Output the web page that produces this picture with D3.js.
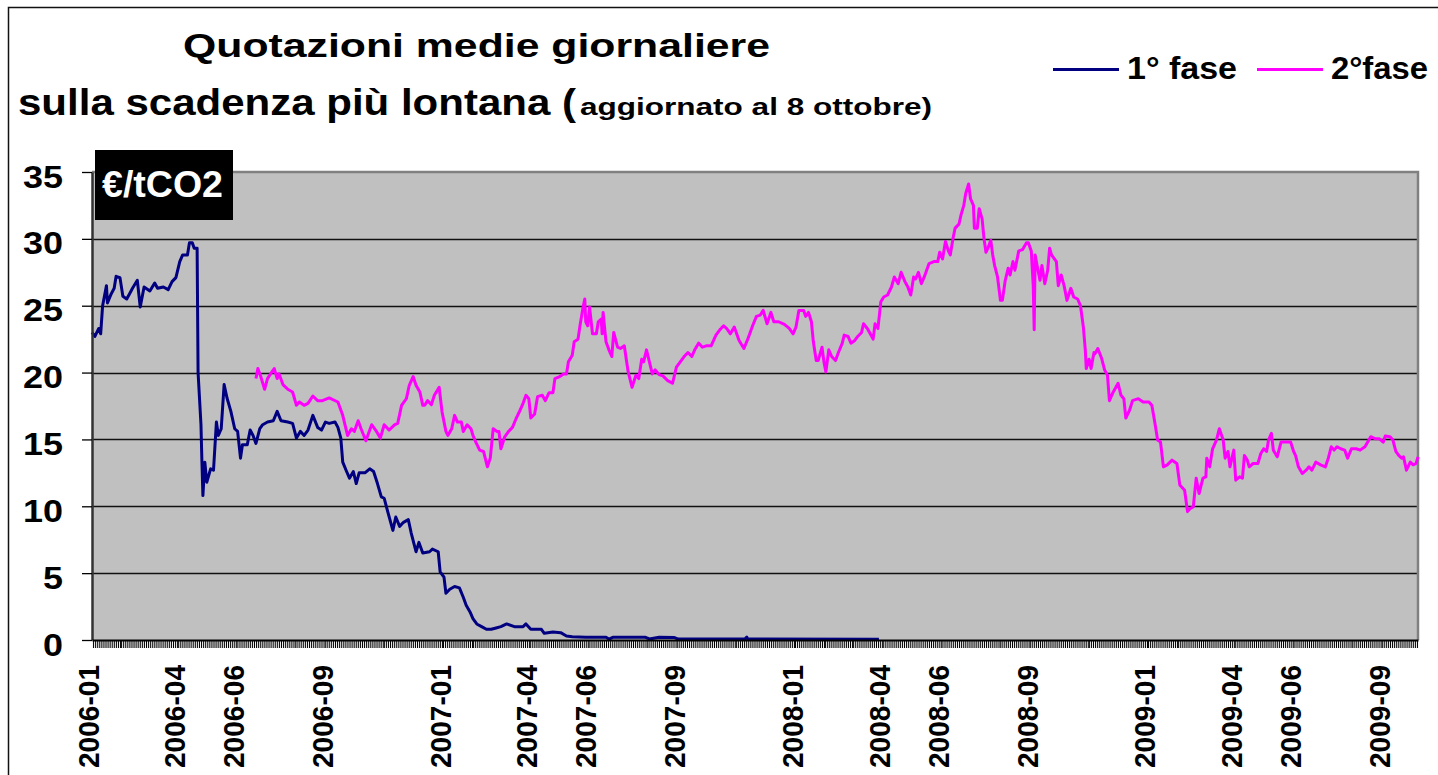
<!DOCTYPE html>
<html>
<head>
<meta charset="utf-8">
<script src="https://cdn.jsdelivr.net/npm/d3@7"></script>
<style>
  body { margin: 0; background: #fff; }
  svg { display: block; }
  text { font-family: Arial, "Liberation Sans", sans-serif; font-weight: bold; }
</style>
</head>
<body>
<svg id="chart" width="1438" height="775"></svg>
<script>
// Quotazioni EUA - 1° fase e 2° fase

const yTicks = [0, 5, 10, 15, 20, 25, 30, 35];
const xLabels = ["2006-01", "2006-04", "2006-06", "2006-09",
                 "2007-01", "2007-04", "2007-06", "2007-09",
                 "2008-01", "2008-04", "2008-06", "2008-09",
                 "2009-01", "2009-04", "2009-06", "2009-09"];

// 1° fase
const fase1Dates = [
  "2006-01-02","2006-01-05","2006-01-09","2006-01-11","2006-01-13","2006-01-17","2006-01-18","2006-01-22","2006-01-25","2006-01-27","2006-01-31",
  "2006-02-03","2006-02-07","2006-02-10","2006-02-13","2006-02-18","2006-02-21","2006-02-25",
  "2006-03-03","2006-03-08","2006-03-11","2006-03-17","2006-03-22","2006-03-26","2006-03-30",
  "2006-04-03","2006-04-06","2006-04-11","2006-04-13","2006-04-16","2006-04-18","2006-04-21","2006-04-22","2006-04-25","2006-04-26","2006-04-27","2006-04-29",
  "2006-05-01","2006-05-05","2006-05-08","2006-05-11","2006-05-13","2006-05-16","2006-05-19","2006-05-22","2006-05-26","2006-05-30",
  "2006-06-02","2006-06-05","2006-06-07","2006-06-12","2006-06-15","2006-06-18","2006-06-21","2006-06-25","2006-06-28",
  "2006-07-03","2006-07-09","2006-07-13","2006-07-17","2006-07-24","2006-07-29",
  "2006-08-02","2006-08-06","2006-08-10","2006-08-14","2006-08-19","2006-08-24","2006-08-28",
  "2006-09-01","2006-09-05","2006-09-11","2006-09-14","2006-09-17","2006-09-19","2006-09-23","2006-09-26","2006-09-30",
  "2006-10-03","2006-10-06","2006-10-12","2006-10-17","2006-10-21","2006-10-25","2006-10-29",
  "2006-11-01","2006-11-05","2006-11-10","2006-11-13","2006-11-17","2006-11-21","2006-11-26","2006-11-29",
  "2006-12-04","2006-12-07","2006-12-11","2006-12-18","2006-12-21","2006-12-27","2006-12-29",
  "2007-01-02","2007-01-04","2007-01-08","2007-01-13","2007-01-18","2007-01-22","2007-01-25","2007-01-29",
  "2007-02-01","2007-02-05","2007-02-10","2007-02-15","2007-02-20","2007-02-25",
  "2007-03-02","2007-03-08","2007-03-16","2007-03-25","2007-03-28",
  "2007-04-02","2007-04-13","2007-04-16","2007-04-25",
  "2007-05-03","2007-05-09","2007-05-15","2007-05-29",
  "2007-06-19","2007-06-22","2007-06-26",
  "2007-07-30","2007-08-03","2007-08-13","2007-08-29","2007-09-02",
  "2007-11-10","2007-11-12","2007-11-13","2008-03-28"
];
const fase1Values = [
  23.0,22.7,23.3,22.9,25.0,26.5,25.2,25.9,26.3,27.2,27.1,
  25.7,25.5,25.9,26.3,26.9,24.9,26.4,
  26.1,26.7,26.3,26.4,26.2,26.8,27.1,
  28.3,28.8,28.8,29.7,29.7,29.3,29.3,20.0,16.1,13.3,10.8,13.3,
  11.8,12.8,12.7,16.3,15.3,15.8,19.1,18.1,17.1,15.8,
  15.6,13.6,14.6,14.6,15.7,15.3,14.7,15.8,16.1,
  16.3,16.4,17.1,16.4,16.3,16.2,
  15.1,15.6,15.3,15.7,16.8,15.9,15.7,
  16.3,16.2,16.3,15.9,15.1,13.3,12.6,12.1,12.6,
  11.7,12.5,12.5,12.8,12.6,11.7,10.7,
  10.6,9.5,8.2,9.2,8.5,8.8,9.0,8.0,
  6.6,7.3,6.5,6.6,6.8,6.6,5.1,
  4.7,3.5,3.8,4.0,3.9,3.2,2.6,2.1,
  1.6,1.2,1.0,0.8,0.8,0.9,
  1.0,1.2,1.0,1.0,1.2,
  0.8,0.8,0.5,0.6,
  0.55,0.3,0.25,0.2,
  0.2,0.07,0.2,
  0.2,0.08,0.2,0.18,0.07,
  0.07,0.22,0.07,0.05
];

// 2° fase
const fase2Dates = [
  "2006-06-21","2006-06-23","2006-06-26","2006-06-30",
  "2006-07-03","2006-07-07","2006-07-10","2006-07-13","2006-07-15","2006-07-19","2006-07-24","2006-07-29",
  "2006-08-02","2006-08-05","2006-08-10","2006-08-14","2006-08-19","2006-08-24","2006-08-29",
  "2006-09-05","2006-09-14","2006-09-19","2006-09-24","2006-09-28",
  "2006-10-01","2006-10-05","2006-10-08","2006-10-13","2006-10-19","2006-10-24","2006-10-28",
  "2006-11-01","2006-11-06","2006-11-12","2006-11-15","2006-11-19","2006-11-24","2006-11-27",
  "2006-12-01","2006-12-04","2006-12-08","2006-12-11","2006-12-13","2006-12-16","2006-12-20","2006-12-23","2006-12-28","2006-12-31",
  "2007-01-04","2007-01-06","2007-01-10","2007-01-13","2007-01-16","2007-01-20","2007-01-22","2007-01-26","2007-01-30",
  "2007-02-01","2007-02-04","2007-02-08","2007-02-12","2007-02-16","2007-02-19","2007-02-22","2007-02-26","2007-02-28",
  "2007-03-02","2007-03-06","2007-03-10","2007-03-14","2007-03-18","2007-03-21","2007-03-25","2007-03-28","2007-03-31",
  "2007-04-02","2007-04-06","2007-04-09","2007-04-14","2007-04-17","2007-04-21","2007-04-25","2007-04-27",
  "2007-05-02","2007-05-06","2007-05-09","2007-05-11","2007-05-15","2007-05-17","2007-05-21","2007-05-23","2007-05-26","2007-05-28","2007-05-29","2007-05-31",
  "2007-06-02","2007-06-05","2007-06-09","2007-06-11","2007-06-14","2007-06-15","2007-06-16","2007-06-19","2007-06-22","2007-06-25","2007-06-27",
  "2007-07-01","2007-07-04","2007-07-08","2007-07-10","2007-07-12","2007-07-16","2007-07-20","2007-07-23","2007-07-26","2007-07-28","2007-07-31",
  "2007-08-03","2007-08-06","2007-08-09","2007-08-13","2007-08-17","2007-08-22","2007-08-27","2007-08-31",
  "2007-09-04","2007-09-08","2007-09-12","2007-09-16","2007-09-19","2007-09-23","2007-09-27",
  "2007-10-01","2007-10-06","2007-10-11","2007-10-15","2007-10-19","2007-10-22","2007-10-26","2007-10-30",
  "2007-11-04","2007-11-09","2007-11-13","2007-11-18","2007-11-22","2007-11-26","2007-11-29",
  "2007-12-03","2007-12-07","2007-12-10","2007-12-15","2007-12-21","2007-12-26","2007-12-30",
  "2008-01-02","2008-01-05","2008-01-10","2008-01-12","2008-01-15","2008-01-18","2008-01-20","2008-01-23","2008-01-25","2008-01-29","2008-01-31",
  "2008-02-02","2008-02-05","2008-02-08","2008-02-12","2008-02-15","2008-02-19","2008-02-21","2008-02-25","2008-02-28",
  "2008-03-03","2008-03-06","2008-03-10","2008-03-12","2008-03-16","2008-03-19","2008-03-22","2008-03-24","2008-03-27","2008-03-30",
  "2008-04-02","2008-04-06","2008-04-10","2008-04-13","2008-04-17","2008-04-20","2008-04-24","2008-04-27","2008-04-30",
  "2008-05-03","2008-05-05","2008-05-08","2008-05-11","2008-05-14","2008-05-19","2008-05-24","2008-05-28","2008-05-30",
  "2008-06-02","2008-06-05","2008-06-08","2008-06-10","2008-06-13","2008-06-15","2008-06-19","2008-06-21","2008-06-24","2008-06-26","2008-06-29",
  "2008-07-01","2008-07-04","2008-07-05","2008-07-08","2008-07-10","2008-07-13","2008-07-15","2008-07-17","2008-07-19","2008-07-22","2008-07-24","2008-07-26","2008-07-29",
  "2008-08-01","2008-08-03","2008-08-06","2008-08-09","2008-08-11","2008-08-14","2008-08-16","2008-08-20","2008-08-24","2008-08-28","2008-08-30",
  "2008-09-02","2008-09-04","2008-09-05","2008-09-06","2008-09-08","2008-09-11","2008-09-13","2008-09-16","2008-09-19","2008-09-21","2008-09-23","2008-09-28","2008-09-30",
  "2008-10-03","2008-10-06","2008-10-09","2008-10-13","2008-10-16","2008-10-20","2008-10-23","2008-10-26","2008-10-28","2008-10-29",
  "2008-11-01","2008-11-03","2008-11-06","2008-11-07","2008-11-10","2008-11-14","2008-11-17","2008-11-20","2008-11-22","2008-11-26",
  "2008-12-01","2008-12-04","2008-12-07","2008-12-09","2008-12-13","2008-12-16","2008-12-22","2008-12-27",
  "2009-01-02","2009-01-05","2009-01-08","2009-01-11","2009-01-14","2009-01-17","2009-01-21","2009-01-26","2009-01-31",
  "2009-02-03","2009-02-08","2009-02-11","2009-02-14","2009-02-17","2009-02-20","2009-02-23","2009-02-27",
  "2009-03-02","2009-03-03","2009-03-06","2009-03-09","2009-03-13","2009-03-16","2009-03-20","2009-03-22","2009-03-25","2009-03-27","2009-03-31",
  "2009-04-02","2009-04-06","2009-04-09","2009-04-11","2009-04-14","2009-04-16","2009-04-20","2009-04-25","2009-04-28",
  "2009-05-01","2009-05-04","2009-05-06","2009-05-09","2009-05-11","2009-05-15","2009-05-19","2009-05-24","2009-05-29",
  "2009-06-01","2009-06-03","2009-06-06","2009-06-10","2009-06-14","2009-06-17","2009-06-20","2009-06-24","2009-06-29",
  "2009-07-04","2009-07-07","2009-07-10","2009-07-13","2009-07-16","2009-07-20","2009-07-24","2009-07-27","2009-07-31",
  "2009-08-05","2009-08-09","2009-08-14","2009-08-20","2009-08-25","2009-08-29",
  "2009-09-02","2009-09-04","2009-09-09","2009-09-12","2009-09-15","2009-09-18","2009-09-21","2009-09-23","2009-09-26","2009-09-30",
  "2009-10-03","2009-10-06","2009-10-08"
];
const fase2Values = [
  19.55,20.3,19.7,18.75,
  19.55,20.0,20.3,19.55,19.9,19.1,18.75,18.55,
  17.55,17.8,17.55,17.7,18.25,17.9,17.9,
  18.1,17.8,16.8,15.3,15.8,
  15.6,16.4,15.8,14.9,16.1,15.6,15.1,
  16.1,15.7,16.1,16.2,17.55,18.05,19.05,
  19.7,19.05,18.55,17.55,17.55,17.9,17.6,18.3,18.9,17.05,
  15.6,15.3,15.8,16.8,16.3,16.3,15.6,16.1,15.8,
  15.3,14.8,14.2,14.1,12.95,13.6,15.8,15.6,15.6,
  14.3,15.2,15.6,15.9,16.6,17.05,17.7,18.3,18.05,
  16.6,16.9,18.2,18.3,17.9,18.5,18.5,19.55,
  19.7,19.9,19.9,20.8,21.3,22.3,22.5,23.5,24.8,25.5,23.8,23.5,
  24.9,22.9,22.9,23.8,24.0,22.9,24.5,22.3,21.7,21.2,23.0,
  21.9,21.8,22.0,21.0,20.05,18.9,19.8,19.55,21.0,20.8,21.7,
  20.8,19.9,20.2,19.85,19.75,19.4,19.2,20.4,
  20.8,21.2,21.5,21.2,21.7,22.2,21.9,
  22.0,22.0,22.8,23.2,23.5,23.3,22.9,23.4,
  22.4,21.8,22.5,23.5,24.2,24.3,24.65,
  23.65,24.5,23.8,23.8,23.6,23.3,22.9,
  23.4,24.65,24.65,24.2,24.5,23.8,22.3,20.9,20.9,21.9,20.8,
  20.05,21.7,21.2,20.9,21.5,22.2,22.8,22.7,22.2,
  22.4,22.7,23.0,23.65,23.3,22.9,22.5,23.65,23.3,25.3,
  25.65,25.8,26.4,27.15,26.65,27.5,26.8,26.4,25.8,
  27.15,27.0,27.5,26.65,27.15,28.15,28.3,28.3,29.0,
  28.5,29.8,29.1,28.8,30.1,30.8,31.1,31.75,32.5,33.4,34.1,
  33.0,32.5,30.8,30.8,32.25,31.5,30.0,29.0,29.3,29.9,28.8,28.0,27.15,
  25.4,25.4,26.9,27.8,27.3,28.3,27.65,29.1,29.2,29.7,29.7,
  29.1,26.5,23.2,28.8,28.0,26.9,28.0,26.65,27.65,29.3,28.8,28.3,26.5,
  27.3,26.5,25.4,26.3,25.65,25.5,25.0,23.4,21.7,20.3,
  21.0,20.3,21.5,21.4,21.8,21.05,20.2,19.8,17.9,18.55,
  19.2,18.3,18.05,16.6,17.2,17.9,18.05,17.8,
  17.8,17.55,16.3,14.95,14.8,12.95,13.1,13.45,13.2,
  11.6,11.2,9.6,9.85,9.95,12.1,10.95,12.1,
  12.2,13.6,12.95,14.3,14.95,15.8,14.95,13.6,14.1,12.95,14.2,
  11.95,12.2,12.1,13.8,13.45,12.95,13.2,13.2,13.95,
  14.3,14.1,14.95,15.45,14.2,13.7,14.8,14.8,14.8,
  14.1,13.8,12.95,12.45,12.7,12.95,12.7,13.3,13.1,
  12.95,13.6,14.45,14.2,14.45,14.3,14.2,13.6,14.3,
  14.3,14.2,14.45,15.2,15.05,15.05,
  14.8,15.25,15.2,14.95,14.1,13.8,13.6,13.7,12.7,13.3,
  13.1,13.2,13.7
];

const parseDay = d3.timeParse("%Y-%m-%d");
const parseMonth = d3.timeParse("%Y-%m");

if (fase1Dates.length !== fase1Values.length || fase2Dates.length !== fase2Values.length) {
  console.warn("date e valori non allineati");
}

const fase1 = fase1Dates.map((d, i) => ({ date: parseDay(d), value: fase1Values[i] }));
const fase2 = fase2Dates.map((d, i) => ({ date: parseDay(d), value: fase2Values[i] }));

const plotLeft = 92, plotRight = 1418, plotTop = 172, plotBottom = 640;

const svg = d3.select("#chart");

// cornice esterna
svg.append("path")
  .attr("d", "M8.5,775 L8.5,7.5 L1438,7.5")
  .attr("fill", "none")
  .attr("stroke", "#111")
  .attr("stroke-width", 1.5);

const x = d3.scaleTime()
  .domain([parseDay("2006-01-02"), parseDay("2009-10-08")])
  .range([plotLeft, plotRight]);

const y = d3.scaleLinear()
  .domain([0, 35])
  .range([plotBottom, plotTop]);

// area del grafico
svg.append("rect")
  .attr("x", plotLeft).attr("y", plotTop)
  .attr("width", plotRight - plotLeft).attr("height", plotBottom - plotTop)
  .attr("fill", "#c0c0c0");

// griglia
svg.append("g")
  .selectAll("line")
  .data(yTicks.filter(v => v > 0 && v < 35))
  .enter().append("line")
  .attr("x1", plotLeft).attr("x2", plotRight)
  .attr("y1", d => Math.round(y(d)) + 0.5)
  .attr("y2", d => Math.round(y(d)) + 0.5)
  .attr("stroke", "#111")
  .attr("stroke-width", 1.3);

// bordo superiore e destro
svg.append("path")
  .attr("d", `M${plotLeft},${plotTop} L${plotRight},${plotTop} L${plotRight},${plotBottom}`)
  .attr("fill", "none")
  .attr("stroke", "#808080")
  .attr("stroke-width", 2.5);

// linee
const line = d3.line()
  .x(d => x(d.date))
  .y(d => y(d.value));

svg.append("path")
  .datum(fase2)
  .attr("d", line)
  .attr("fill", "none")
  .attr("stroke", "#ff00ff")
  .attr("stroke-width", 3)
  .attr("stroke-linejoin", "round");

svg.append("path")
  .datum(fase1)
  .attr("d", line)
  .attr("fill", "none")
  .attr("stroke", "#000080")
  .attr("stroke-width", 3)
  .attr("stroke-linejoin", "round");

// asse y
const yAxis = svg.append("g")
  .attr("transform", `translate(${plotLeft},0)`)
  .call(d3.axisLeft(y).tickValues(yTicks).tickSize(10).tickSizeOuter(0).tickPadding(19));

yAxis.select(".domain").attr("stroke", "#333").attr("stroke-width", 2.5);
yAxis.selectAll(".tick line").attr("stroke", "#000").attr("stroke-width", 1.3);
yAxis.selectAll("text")
  .attr("font-family", "Arial, 'Liberation Sans', sans-serif")
  .attr("font-weight", "bold")
  .attr("font-size", 31)
  .attr("fill", "#000")
  .attr("dy", 15)
  .attr("textLength", d => String(d).length * 20)
  .attr("lengthAdjust", "spacingAndGlyphs");

// asse x: tacche fitte
const xAxis = svg.append("g")
  .attr("transform", `translate(0,${plotBottom})`)
  .call(d3.axisBottom(x).ticks(d3.timeDay.every(2)).tickSize(8).tickSizeOuter(0).tickFormat(""));

xAxis.select(".domain").attr("stroke", "#000").attr("stroke-width", 2);
xAxis.selectAll(".tick line").attr("stroke", "#000").attr("stroke-width", 1);

// etichette asse x
svg.append("g")
  .selectAll("text")
  .data(xLabels)
  .enter().append("text")
  .attr("transform", d => `translate(${x(parseMonth(d)) - 3 + 10.5},665) rotate(-90)`)
  .attr("text-anchor", "end")
  .attr("font-size", 30)
  .attr("textLength", 103)
  .attr("lengthAdjust", "spacingAndGlyphs")
  .text(d => d);

// riquadro unita'
svg.append("rect")
  .attr("x", 95).attr("y", 150)
  .attr("width", 138).attr("height", 70)
  .attr("fill", "#000");

svg.append("text")
  .attr("x", 102).attr("y", 197)
  .attr("font-size", 37)
  .attr("fill", "#fff")
  .attr("textLength", 121)
  .attr("lengthAdjust", "spacingAndGlyphs")
  .text("€/tCO2");

// titolo
svg.append("text")
  .attr("x", 183).attr("y", 57)
  .attr("font-size", 34)
  .attr("textLength", 587)
  .attr("lengthAdjust", "spacingAndGlyphs")
  .text("Quotazioni medie giornaliere");

svg.append("text")
  .attr("x", 18).attr("y", 115)
  .attr("font-size", 36)
  .attr("textLength", 558)
  .attr("lengthAdjust", "spacingAndGlyphs")
  .text("sulla scadenza più lontana (");

svg.append("text")
  .attr("x", 580).attr("y", 115)
  .attr("font-size", 24)
  .attr("textLength", 352)
  .attr("lengthAdjust", "spacingAndGlyphs")
  .text("aggiornato al 8 ottobre)");

// legenda
const legend = [
  { label: "1° fase", color: "#000080", x: 1053, w: 110 },
  { label: "2°fase", color: "#ff00ff", x: 1257, w: 97 }
];

const lg = svg.append("g");
lg.selectAll("line")
  .data(legend)
  .enter().append("line")
  .attr("x1", d => d.x).attr("x2", d => d.x + 66)
  .attr("y1", 69.5).attr("y2", 69.5)
  .attr("stroke", d => d.color)
  .attr("stroke-width", 3);

lg.selectAll("text")
  .data(legend)
  .enter().append("text")
  .attr("x", d => d.x + 74)
  .attr("y", 78.5)
  .attr("font-size", 32)
  .attr("textLength", d => d.w)
  .attr("lengthAdjust", "spacingAndGlyphs")
  .text(d => d.label);
</script>
</body>
</html>
